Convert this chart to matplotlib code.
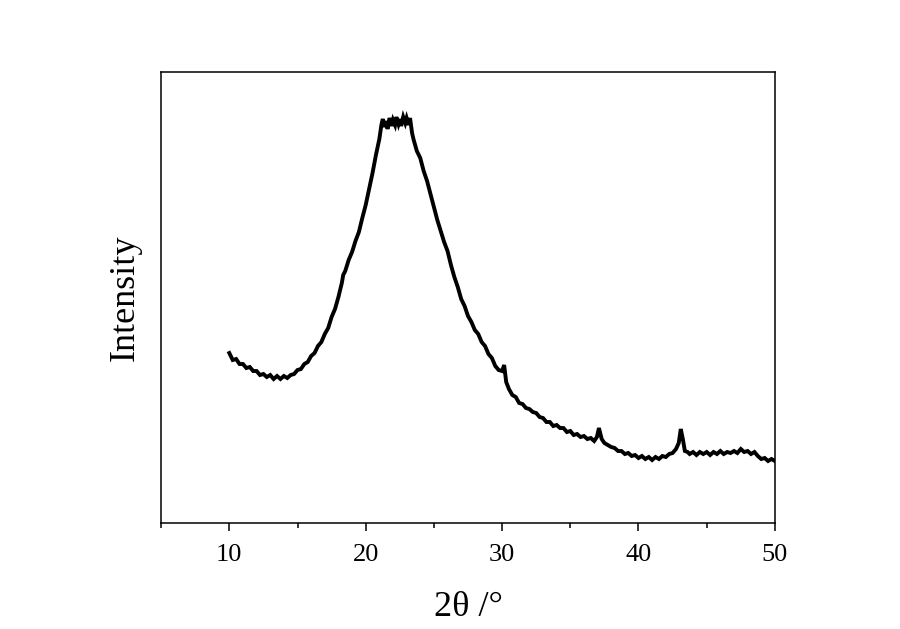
import matplotlib
matplotlib.use("Agg")
import matplotlib.pyplot as plt
from matplotlib.ticker import MultipleLocator

plt.rcParams['font.family'] = ['Liberation Serif', 'DejaVu Serif']

# 2theta (deg) and intensity (arb. units)
two_theta = [10.00, 10.25, 10.50, 10.75, 11.00, 11.25, 11.50, 11.75, 12.00, 12.25,
             12.50, 12.75, 13.00, 13.25, 13.50, 13.75, 14.00, 14.25, 14.50, 14.75,
             15.00, 15.25, 15.50, 15.75, 16.00, 16.25, 16.50, 16.75, 17.00, 17.25,
             17.50, 17.75, 18.00, 18.25, 18.35, 18.50, 18.75, 19.00, 19.25, 19.50,
             19.75, 20.00, 20.25, 20.50, 20.75, 21.00, 21.15, 21.25, 21.40, 21.50,
             21.60, 21.75, 21.90, 22.00, 22.15, 22.25, 22.40, 22.50, 22.60, 22.75,
             22.90, 23.00, 23.15, 23.25, 23.40, 23.50, 23.75, 24.00, 24.25, 24.50,
             24.75, 25.00, 25.25, 25.50, 25.75, 26.00, 26.25, 26.50, 26.75, 27.00,
             27.25, 27.50, 27.75, 28.00, 28.25, 28.50, 28.75, 29.00, 29.25, 29.50,
             29.75, 30.00, 30.15, 30.30, 30.50, 30.75, 31.00, 31.25, 31.50, 31.75,
             32.00, 32.25, 32.50, 32.75, 33.00, 33.25, 33.50, 33.75, 34.00, 34.25,
             34.50, 34.75, 35.00, 35.25, 35.50, 35.75, 36.00, 36.25, 36.50, 36.75,
             36.95, 37.10, 37.30, 37.50, 37.75, 38.00, 38.25, 38.50, 38.75, 39.00,
             39.25, 39.50, 39.75, 40.00, 40.25, 40.50, 40.75, 41.00, 41.25, 41.50,
             41.75, 42.00, 42.25, 42.50, 42.75, 42.95, 43.10, 43.25, 43.40, 43.60,
             43.75, 44.00, 44.25, 44.50, 44.75, 45.00, 45.25, 45.50, 45.75, 46.00,
             46.25, 46.50, 46.75, 47.00, 47.25, 47.50, 47.75, 48.00, 48.25, 48.50,
             48.75, 49.00, 49.25, 49.50, 49.75, 50.00]
intensity = [170, 163, 164, 159, 159, 155, 156, 152, 152, 148,
             149, 146, 148, 144, 147, 144, 147, 145, 148, 149,
             153, 154, 159, 161, 167, 170, 177, 181, 189, 195,
             206, 214, 226, 240, 248, 252, 263, 271, 282, 291,
             305, 318, 334, 350, 368, 384, 398, 404, 396, 402,
             394, 405, 397, 403, 398, 406, 399, 404, 397, 406,
             400, 405, 398, 405, 390, 384, 372, 365, 352, 342,
             329, 316, 303, 292, 281, 272, 258, 246, 236, 224,
             217, 207, 201, 193, 189, 181, 177, 169, 165, 157,
             153, 152, 158, 141, 134, 128, 126, 120, 119, 115,
             114, 111, 110, 106, 105, 101, 101, 97, 98, 95,
             95, 91, 92, 88, 89, 86, 87, 84, 85, 82,
             86, 95, 84, 80, 78, 76, 75, 72, 72, 69,
             70, 67, 68, 65, 67, 64, 66, 63, 66, 64,
             67, 66, 69, 70, 74, 80, 94, 84, 72, 71,
             69, 71, 68, 71, 69, 71, 68, 71, 69, 72,
             69, 71, 70, 72, 70, 74, 71, 72, 69, 71,
             67, 64, 65, 62, 64, 62]

fig = plt.figure(figsize=(9, 6.29), dpi=100)
ax = fig.add_axes([0.179, 0.1685, 0.682, 0.717])
ax.plot(two_theta, intensity, color='black', lw=2.8, solid_joinstyle='miter')

ax.set_xlim(5, 50)
ax.set_ylim(0, 451)
ax.xaxis.set_major_locator(MultipleLocator(10))
ax.xaxis.set_minor_locator(MultipleLocator(5))
ax.set_xticks([10, 20, 30, 40, 50])
ax.tick_params(axis='x', which='major', direction='out', length=6, width=1.1,
               labelsize=19, pad=9)
ax.tick_params(axis='x', which='minor', direction='out', length=3.5, width=1.1)
ax.set_yticks([])
for s in ax.spines.values():
    s.set_linewidth(1.1)

ax.set_xlabel('2θ /°', fontsize=26, labelpad=18)
ax.set_ylabel('Intensity', fontsize=26, labelpad=14)

fig.savefig('out.png', dpi=100)
